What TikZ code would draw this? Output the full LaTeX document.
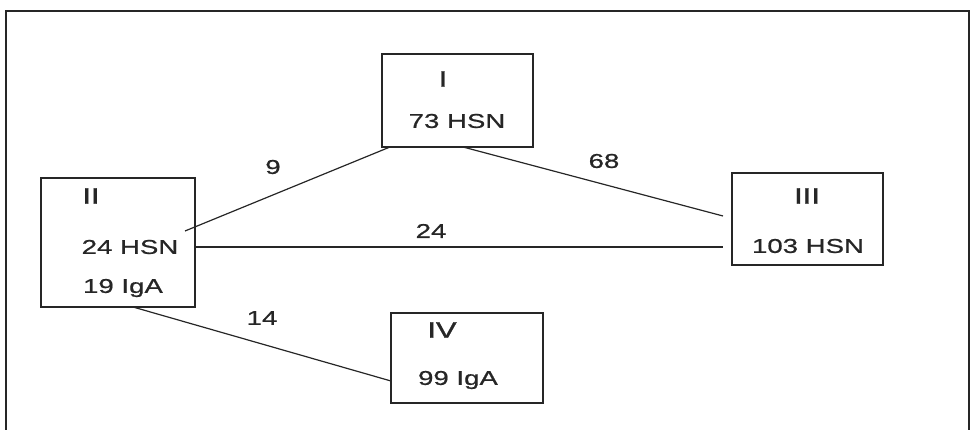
\documentclass[tikz,border=0pt]{standalone}
\usepackage{fontspec}
\setmainfont{Liberation Sans}[FakeStretch=1.38, FakeBold=0.8]
\newfontfamily\numeralfont{Liberation Sans}[FakeStretch=1.38, FakeBold=1.6]
\begin{document}
\begin{tikzpicture}[x=1pt,y=-1pt,
  group/.style={draw=black!85, line width=1.6pt, minimum width=#1, inner sep=0pt},
  roman/.style={font=\numeralfont\fontsize{22.5}{24}\selectfont, inner sep=0pt, text=black!85},
  count/.style={font=\fontsize{20}{22}\selectfont, inner sep=0pt, text=black!85},
  link/.style={draw=black!85, line width=1.2pt},
  weight/.style={font=\fontsize{20}{22}\selectfont, inner sep=0pt, text=black!85}]
  \useasboundingbox (0,0) rectangle (971,430);
  % outer frame (open at the bottom edge of the page)
  \draw[line width=1.8pt, black!85] (6,430) -- (6,11) -- (969,11) -- (969,430);

  % groups
  \node[group=151pt, minimum height=93pt]  (g1) at (457.5,100.5) {};
  \node[group=154pt, minimum height=129pt] (g2) at (118,242.5)   {};
  \node[group=151pt, minimum height=92pt]  (g3) at (807.5,219)   {};
  \node[group=152pt, minimum height=90pt]  (g4) at (467,358)     {};

  % group labels
  \node[roman] (t1) at (443,79)  {I};
  \node[count] (c1) at (457,121) {73 HSN};
  \node[roman] (t2) at (91,196)  {II};
  \node[count] (c2) at (130,247) {24 HSN};
  \node[count] (d2) at (123,288) {19 IgA};
  \node[roman] (t3) at (807,196) {III};
  \node[count] (c3) at (808,246) {103 HSN};
  \node[roman] (t4) at (442,330) {IV};
  \node[count] (c4) at (458,380) {99 IgA};

  % link end points
  \coordinate (a1) at (390,147);
  \coordinate (a2) at (185,231);
  \coordinate (b1) at (463,147);
  \coordinate (b3) at (723,216);
  \coordinate (h2) at (195,247);
  \coordinate (h3) at (723,247);
  \coordinate (k2) at (133,307);
  \coordinate (k4) at (391,381);

  % links
  \draw[link] (a1) -- (a2);
  \draw[link] (b1) -- (b3);
  \draw[link] (h2) -- (h3);
  \draw[link] (k2) -- (k4);

  % link weights
  \node[weight] (w12) at (273,167) {9};
  \node[weight] (w13) at (604,161) {68};
  \node[weight] (w23) at (431,231) {24};
  \node[weight] (w24) at (262,318) {14};
\end{tikzpicture}
\end{document}
